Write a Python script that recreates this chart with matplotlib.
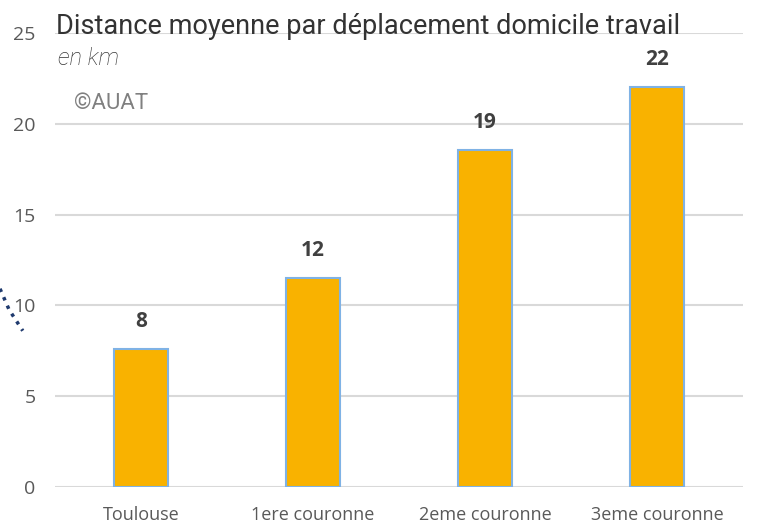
import matplotlib
matplotlib.use("Agg")
from matplotlib import pyplot as plt
from matplotlib.lines import Line2D

categories = ["Toulouse", "1ere couronne", "2eme couronne", "3eme couronne"]
values = [7.6, 11.5, 18.55, 22.0]
labels = ["8", "12", "19", "22"]
yticks = [0, 5, 10, 15, 20, 25]

fig = plt.figure(figsize=(7.59, 5.25), dpi=100)
ax = fig.add_axes([0.0725, 0.0724, 0.9065, 0.8648])

x = range(len(categories))
ax.bar(x, values, width=0.31, color="#F9B200", edgecolor="#7FB2E5", linewidth=1.5, zorder=3)
for i, v in enumerate(values):
    ax.text(i, v + 0.95, labels[i], ha="center", va="bottom", fontsize=15,
            fontweight="bold", color="#404040", family="Open Sans")

ax.set_xlim(-0.5, len(categories) - 0.5)
ax.set_ylim(0, 25)
ax.set_yticks(yticks)
ax.set_xticks(list(x))
ax.set_xticklabels(categories, fontsize=13, color="#595959", family="Open Sans")
ax.set_yticklabels([str(t) for t in yticks], fontsize=14, color="#595959", family="Open Sans")
ax.tick_params(length=0)
ax.tick_params(axis="y", pad=14)
ax.tick_params(axis="x", pad=14)
ax.grid(axis="y", color="#D9D9D9", linewidth=1.5, zorder=0)
for s in ax.spines.values():
    s.set_visible(False)

fig.text(0.074, 0.949, "Distance moyenne par déplacement domicile travail", fontsize=19.5,
         color="#333333", family="Roboto", va="center")
fig.text(0.076, 0.888, "en km", fontsize=17, style="italic", color="#333333",
         family="Roboto", fontweight="light", va="center")
fig.text(0.098, 0.803, "©AUAT", fontsize=16, color="#808080", family="Roboto", va="center")

# small dotted mark on the left edge
fig.add_artist(Line2D([0.0, 0.012, 0.03], [0.45, 0.41, 0.37], transform=fig.transFigure,
                      linestyle=":", linewidth=2.5, color="#1F3A6E"))

fig.savefig("out.png", dpi=100)
